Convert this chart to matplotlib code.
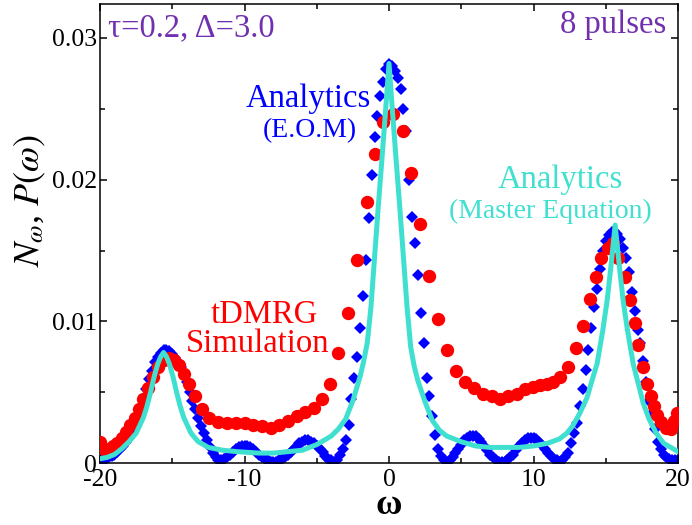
import numpy as np
import matplotlib
matplotlib.use('Agg')
from matplotlib import pyplot as plt

plt.rcParams['font.family'] = 'Liberation Serif'
plt.rcParams['mathtext.fontset'] = 'stix'

# analytics (E.O.M), one value every 0.2 in omega, -20 .. 20
eom_omega = np.linspace(-20, 20, 201)
eom_values = [
    0.0002, 0.0002, 0.0003, 0.0004, 0.0005, 0.0006, 0.0008, 0.0010, 0.0012, 0.0015,  # -20
    0.0018, 0.0022, 0.0027, 0.0032, 0.0038, 0.0045, 0.0052, 0.0059, 0.0065, 0.0071,  # -18
    0.0075, 0.0078, 0.0080, 0.0080, 0.0079, 0.0077, 0.0074, 0.0071, 0.0068, 0.0063,  # -16
    0.0057, 0.0050, 0.0044, 0.0038, 0.0032, 0.0026, 0.0021, 0.0016, 0.0011, 0.0007,  # -14
    0.0004, 0.0002, 0.0002, 0.0003, 0.0004, 0.0006, 0.0008, 0.0010, 0.0011, 0.0012,  # -12
    0.0012, 0.0012, 0.0011, 0.0010, 0.0008, 0.0006, 0.0004, 0.0003, 0.0002, 0.0001,  # -10
    0.0001, 0.0001, 0.0002, 0.0003, 0.0004, 0.0006, 0.0008, 0.0010, 0.0012, 0.0014,  # -8
    0.0015, 0.0016, 0.0016, 0.0015, 0.0014, 0.0012, 0.0010, 0.0008, 0.0005, 0.0003,  # -6
    0.0002, 0.0001, 0.0002, 0.0006, 0.0010, 0.0016, 0.0027, 0.0045, 0.0060, 0.0075,  # -4
    0.0095, 0.0118, 0.0143, 0.0173, 0.0203, 0.0230, 0.0245, 0.0259, 0.0269, 0.0278,  # -2
    0.0282, 0.0280, 0.0277, 0.0272, 0.0264, 0.0250, 0.0234, 0.0200, 0.0174, 0.0155,  # 0
    0.0133, 0.0106, 0.0085, 0.0060, 0.0047, 0.0033, 0.0020, 0.0010, 0.0005, 0.0002,  # 2
    0.0001, 0.0002, 0.0004, 0.0007, 0.0010, 0.0013, 0.0016, 0.0018, 0.0019, 0.0019,  # 4
    0.0019, 0.0017, 0.0015, 0.0012, 0.0009, 0.0006, 0.0004, 0.0002, 0.0001, 0.0001,  # 6
    0.0001, 0.0002, 0.0004, 0.0006, 0.0009, 0.0012, 0.0014, 0.0016, 0.0018, 0.0018,  # 8
    0.0018, 0.0017, 0.0015, 0.0013, 0.0010, 0.0007, 0.0005, 0.0003, 0.0002, 0.0001,  # 10
    0.0002, 0.0004, 0.0007, 0.0014, 0.0021, 0.0028, 0.0040, 0.0052, 0.0066, 0.0080,  # 12
    0.0095, 0.0110, 0.0123, 0.0137, 0.0150, 0.0157, 0.0161, 0.0163, 0.0164, 0.0162,  # 14
    0.0158, 0.0152, 0.0145, 0.0135, 0.0121, 0.0107, 0.0094, 0.0085, 0.0072, 0.0057,  # 16
    0.0044, 0.0035, 0.0024, 0.0015, 0.0010, 0.0006, 0.0004, 0.0003, 0.0002, 0.0002,  # 18
    0.0002,
]

# tDMRG simulation
dmrg_omega = [
    -20.0, -19.7, -19.4, -19.1, -18.8, -18.5, -18.2, -17.9, -17.6, -17.3,
    -17.0, -16.7, -16.35, -16.0, -15.6, -15.2, -14.85, -14.5, -14.2, -13.85,
    -13.4, -12.95, -12.45, -11.8, -11.2, -10.6, -10.0, -9.4, -8.8, -8.2,
    -7.6, -7.0, -6.4, -5.8, -5.2, -4.65, -4.1, -3.5, -2.85, -2.2,
    -1.55, -0.95, -0.4, 0.25, 0.95, 1.55, 2.15, 2.8, 3.4, 4.0,
    4.65, 5.25, 5.85, 6.5, 7.1, 7.7, 8.25, 8.85, 9.4, 9.95,
    10.45, 10.9, 11.35, 11.85, 12.4, 12.95, 13.45, 13.9, 14.3, 14.65,
    15.15, 15.5, 15.85, 16.3, 16.7, 17.0, 17.25, 17.6, 17.85, 18.1,
    18.35, 18.55, 18.85, 19.2, 19.5, 19.75, 19.95,
]
dmrg_values = [
    0.0015, 0.0010, 0.0010, 0.0012, 0.0014, 0.0018, 0.0022, 0.0027, 0.0032, 0.0038,
    0.0045, 0.0053, 0.0061, 0.0068, 0.0073, 0.0074, 0.0073, 0.0069, 0.0063, 0.0056,
    0.0047, 0.0038, 0.0032, 0.0029, 0.0028, 0.0028, 0.0028, 0.0027, 0.0026, 0.0025,
    0.0027, 0.0030, 0.0033, 0.0036, 0.0039, 0.0045, 0.0056, 0.0078, 0.0106, 0.0143,
    0.0184, 0.0218, 0.0241, 0.0246, 0.0234, 0.0205, 0.0169, 0.0132, 0.0102, 0.0080,
    0.0065, 0.0057, 0.0053, 0.0049, 0.0047, 0.0045, 0.0047, 0.0049, 0.0052, 0.0054,
    0.0055, 0.0056, 0.0057, 0.0061, 0.0068, 0.0081, 0.0097, 0.0116, 0.0131, 0.0145,
    0.0152, 0.0155, 0.0145, 0.0131, 0.0115, 0.0099, 0.0083, 0.0068, 0.0056, 0.0047,
    0.0040, 0.0034, 0.0029, 0.0025, 0.0024, 0.0030, 0.0035,
]

# analytics (master equation)
master_omega = [
    -20.0, -19.5, -19.0, -18.5, -18.0, -17.5, -17.0, -16.75, -16.5, -16.25,
    -16.0, -15.8, -15.6, -15.4, -15.2, -14.95, -14.7, -14.45, -14.2, -13.7,
    -13.2, -12.5, -11.5, -10.5, -9.0, -8.0, -7.0, -6.0, -5.0, -4.5,
    -4.0, -3.5, -3.0, -2.5, -2.0, -1.75, -1.5, -1.25, -1.0, -0.75,
    -0.5, -0.25, 0.0, 0.25, 0.5, 0.75, 1.0, 1.25, 1.5, 1.75,
    2.0, 2.5, 3.0, 3.5, 4.0, 5.0, 6.0, 7.0, 8.0, 9.0,
    10.0, 11.0, 11.8, 12.3, 12.7, 13.2, 13.7, 14.1, 14.4, 14.8,
    15.1, 15.35, 15.65, 15.95, 16.2, 16.5, 16.9, 17.2, 17.6, 18.0,
    18.5, 19.0, 19.5, 20.0,
]
master_values = [
    0.0003, 0.0004, 0.0006, 0.0010, 0.0015, 0.0021, 0.0032, 0.0040, 0.0050, 0.0061,
    0.0070, 0.0075, 0.0078, 0.0075, 0.0070, 0.0061, 0.0050, 0.0040, 0.0032, 0.0021,
    0.0015, 0.0011, 0.0009, 0.0008, 0.0007, 0.0007, 0.0008, 0.0009, 0.0013, 0.0016,
    0.0019, 0.0024, 0.0031, 0.0044, 0.0061, 0.0072, 0.0085, 0.0110, 0.0145, 0.0180,
    0.0213, 0.0247, 0.0282, 0.0247, 0.0213, 0.0180, 0.0145, 0.0110, 0.0082, 0.0068,
    0.0058, 0.0043, 0.0030, 0.0023, 0.0019, 0.0015, 0.0012, 0.0011, 0.0011, 0.0011,
    0.0012, 0.0014, 0.0017, 0.0021, 0.0026, 0.0035, 0.0046, 0.0060, 0.0070, 0.0094,
    0.0115, 0.0138, 0.0168, 0.0138, 0.0115, 0.0094, 0.0070, 0.0058, 0.0042, 0.0031,
    0.0021, 0.0014, 0.0011, 0.0008,
]

xticks = [-20, -10, 0, 10, 20]
xticklabels = ['-20', '-10', '0', '10', '20']
yticks = [0, 0.01, 0.02, 0.03]
yticklabels = ['0', '0.01', '0.02', '0.03']

purple = '#7030b0'
turq = '#40e0d0'

fig = plt.figure(figsize=(6.92, 5.25), dpi=100)
ax = fig.add_axes([100 / 692, 62 / 525, 578 / 692, 459 / 525])

ax.plot(eom_omega, eom_values, 'D', color='blue', ms=6.0, mew=0, zorder=2)
ax.plot(dmrg_omega, dmrg_values, 'o', color='red', ms=9.6, mew=0, zorder=3)
ax.plot(master_omega, master_values, '-', color=turq, lw=3.6, zorder=4)

ax.set_xlim(-20, 20)
ax.set_ylim(0, 0.0324)
ax.set_xticks(xticks)
ax.set_xticklabels(xticklabels)
ax.set_xticks([-15, -5, 5, 15], minor=True)
ax.set_yticks(yticks)
ax.set_yticklabels(yticklabels)
ax.set_yticks([0.005, 0.015, 0.025], minor=True)
ax.tick_params(which='both', direction='in', top=True, right=True, width=1.1, labelsize=18.5)
ax.tick_params(which='major', length=5)
ax.tick_params(which='minor', length=3.5)
ax.tick_params(axis='y', pad=2)
ax.tick_params(axis='x', pad=4)
for s in ax.spines.values():
    s.set_linewidth(1.1)

# x label placed a little below the tick labels, as in the original
fig.text(389 / 692, 1 - 506 / 525, 'ω', fontsize=26, fontweight='bold',
         ha='center', va='center')
fig.text(30 / 692, 1 - 200 / 525, r'$N_\omega$, $P(\omega)$', rotation=90,
         fontsize=26, ha='center', va='center')

ax.text(-19.45, 0.0301, 'τ=0.2, Δ=3.0', color=purple, fontsize=23.5, ha='left', va='baseline')
ax.text(19.17, 0.03035, '8 pulses', color=purple, fontsize=23.5, ha='right', va='baseline')
ax.text(-5.6, 0.02512, 'Analytics', color='blue', fontsize=23.5, ha='center', va='baseline')
ax.text(-5.47, 0.0230, '(E.O.M)', color='blue', fontsize=20, ha='center', va='baseline')
ax.text(11.83, 0.0194, 'Analytics', color=turq, fontsize=23.5, ha='center', va='baseline')
ax.text(11.2, 0.01729, '(Master Equation)', color=turq, fontsize=20, ha='center', va='baseline')
ax.text(-8.65, 0.00988, 'tDMRG', color='red', fontsize=23.5, ha='center', va='baseline')
ax.text(-9.1, 0.00783, 'Simulation', color='red', fontsize=23.5, ha='center', va='baseline')

fig.savefig('out.png', dpi=100)
